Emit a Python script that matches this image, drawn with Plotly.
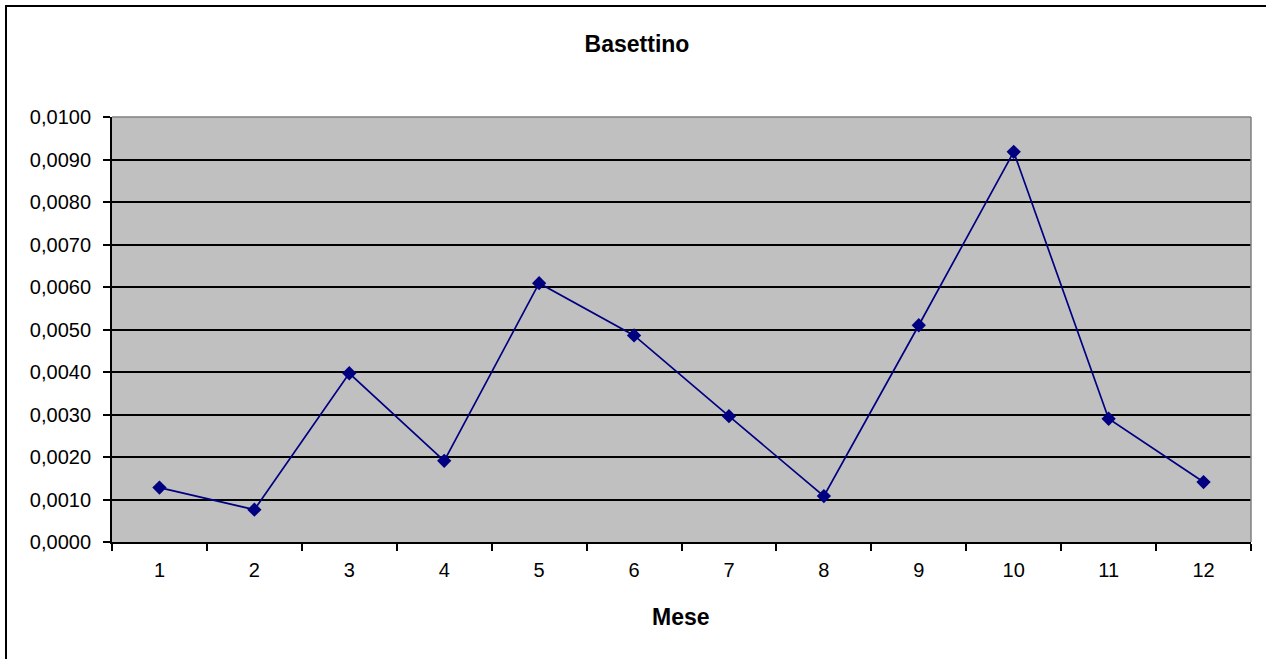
import plotly.graph_objects as go

months = ["1", "2", "3", "4", "5", "6", "7", "8", "9", "10", "11", "12"]
values = [0.00128, 0.00076, 0.00397, 0.00191, 0.00609, 0.00486, 0.00296, 0.00108, 0.00510, 0.00918, 0.00290, 0.00141]
y_ticks = [0.0, 0.001, 0.002, 0.003, 0.004, 0.005, 0.006, 0.007, 0.008, 0.009, 0.010]

W, H = 1266, 659
L, R, T, B = 112, 15, 117, 117
pw, ph = W - L - R, H - T - B

def px_x(x):
    return (x - L) / pw

def px_y(y):
    return (H - B - y) / ph

fig = go.Figure()
fig.add_trace(go.Scatter(
    x=months, y=values, mode="lines+markers",
    line=dict(color="#000080", width=1.7),
    marker=dict(symbol="diamond", size=11, color="#000080"),
    showlegend=False,
))

fig.update_layout(
    width=W, height=H,
    margin=dict(l=L, r=R, t=T, b=B),
    paper_bgcolor="white",
    plot_bgcolor="#C0C0C0",
    separators=",.",
    font=dict(family="Liberation Sans, Arial, sans-serif", size=20, color="black"),
    title=dict(text="<b>Basettino</b>", x=(637 - L) / pw * (pw / W) + L / W, xanchor="center",
               y=1 - 44 / H, yanchor="middle",
               font=dict(size=23, color="black")),
    xaxis=dict(
        type="category", range=[-0.5, 11.5], tickson="boundaries",
        ticks="outside", ticklen=7, tickcolor="black", tickwidth=1.5,
        ticklabelstandoff=9,
        showline=True, linecolor="black", linewidth=2,
        showgrid=False, zeroline=False,
    ),
    yaxis=dict(
        range=[0, 0.010], tickvals=y_ticks, tickformat=".4f",
        ticks="outside", ticklen=7, tickcolor="black", tickwidth=1.5,
        ticklabelstandoff=8,
        showline=True, linecolor="black", linewidth=2,
        showgrid=True, gridcolor="black", gridwidth=1.5,
        zeroline=False,
    ),
    annotations=[
        dict(text="<b>Mese</b>", xref="paper", yref="paper", x=px_x(681), y=px_y(617),
             xanchor="center", yanchor="middle", showarrow=False, font=dict(size=23)),
    ],
    shapes=[
        dict(type="rect", xref="paper", yref="paper",
             x0=px_x(6), x1=px_x(1290), y0=px_y(690), y1=px_y(6),
             line=dict(color="black", width=2), fillcolor="rgba(0,0,0,0)", layer="above"),
        dict(type="line", xref="paper", yref="paper", x0=0, x1=1, y0=1, y1=1,
             line=dict(color="#808080", width=1.5)),
        dict(type="line", xref="paper", yref="paper", x0=1, x1=1, y0=0, y1=1,
             line=dict(color="#808080", width=1.5)),
    ],
)

fig.write_html("out.html", config={"displayModeBar": False},
               post_script="document.body.style.margin='0';document.body.style.overflow='hidden';")
